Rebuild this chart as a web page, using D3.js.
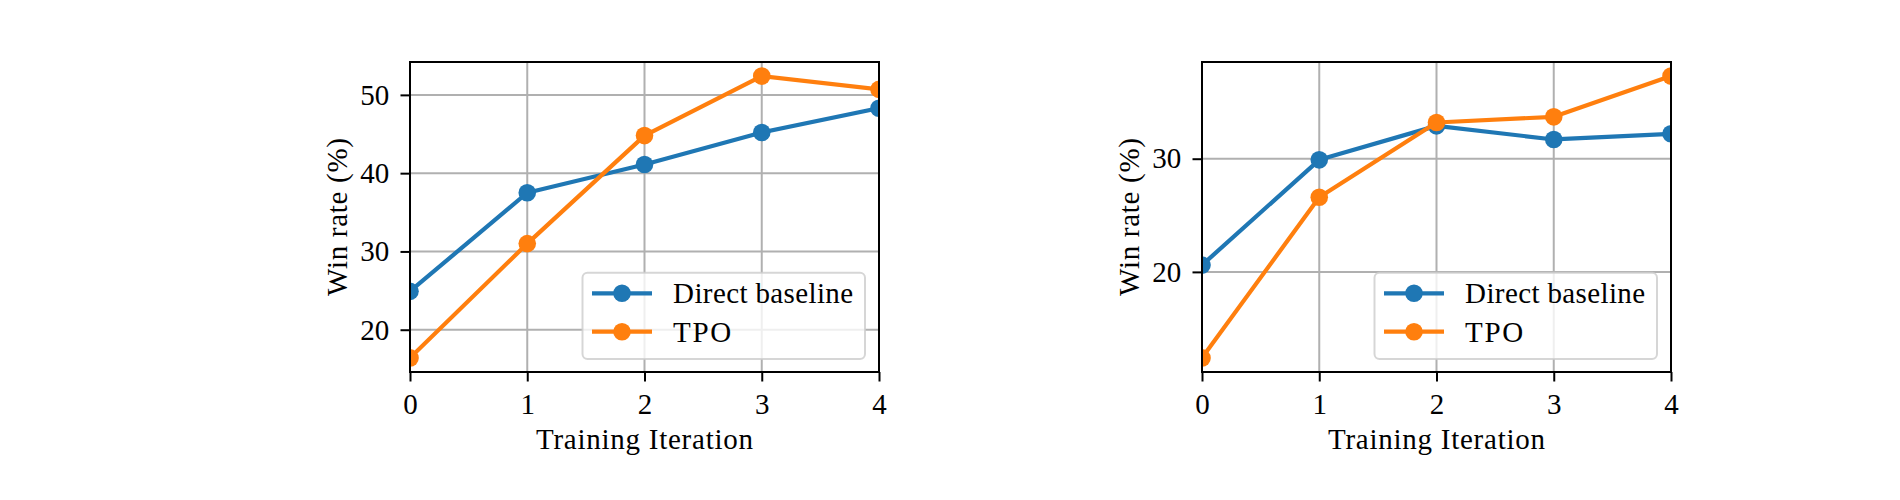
<!DOCTYPE html>
<html>
<head>
<meta charset="utf-8">
<script src="https://cdn.jsdelivr.net/npm/d3@7"></script>
<style>
  body { margin: 0; background: #fff; }
  svg text { font-family: "Liberation Serif", "Times New Roman", serif; fill: #000; }
</style>
</head>
<body>
<div id="chart"></div>
<script>
// data
var iterations = [0, 1, 2, 3, 4];
var seriesNames = ["Direct baseline", "TPO"];
var directLeft = [24.9, 37.5, 41.1, 45.2, 48.3];
var tpoLeft = [16.4, 31.0, 44.8, 52.4, 50.7];
var directRight = [20.6, 29.9, 32.9, 31.7, 32.2];
var tpoRight = [12.4, 26.6, 33.2, 33.7, 37.3];
var yTicksLeft = [20, 30, 40, 50];
var yTicksRight = [20, 30];
var xTicks = [0, 1, 2, 3, 4];

var colors = ["#1f77b4", "#ff7f0e"];
var fontSize = 29;

var svg = d3.select("#chart").append("svg")
  .attr("width", 1900)
  .attr("height", 500);

svg.append("rect").attr("width", 1900).attr("height", 500).attr("fill", "#fff");

var panels = [
  {id: "left", left: 410, right: 879, series: [directLeft, tpoLeft], yTicks: yTicksLeft},
  {id: "right", left: 1202, right: 1671, series: [directRight, tpoRight], yTicks: yTicksRight}
];
var plotTop = 62, plotBottom = 372; // note: "top" is taken by window.top

panels.forEach(function(p) {
  var all = p.series[0].concat(p.series[1]);
  var lo = d3.min(all), hi = d3.max(all), pad = (hi - lo) * 0.05;

  var x = d3.scaleLinear().domain([0, 4]).range([p.left, p.right]);
  var y = d3.scaleLinear().domain([lo - pad, hi + pad]).range([plotBottom, plotTop]);

  var g = svg.append("g").attr("class", "panel-" + p.id);

  g.append("clipPath").attr("id", "clip-" + p.id)
    .append("rect")
    .attr("x", p.left).attr("y", plotTop)
    .attr("width", p.right - p.left).attr("height", plotBottom - plotTop);

  // grid
  g.selectAll(".gx").data(xTicks).enter().append("line")
    .attr("x1", function(d) { return x(d); }).attr("x2", function(d) { return x(d); })
    .attr("y1", plotTop).attr("y2", plotBottom)
    .attr("stroke", "#b0b0b0").attr("stroke-width", 2);
  g.selectAll(".gy").data(p.yTicks).enter().append("line")
    .attr("x1", p.left).attr("x2", p.right)
    .attr("y1", function(d) { return y(d); }).attr("y2", function(d) { return y(d); })
    .attr("stroke", "#b0b0b0").attr("stroke-width", 2);

  // series
  var plot = g.append("g").attr("clip-path", "url(#clip-" + p.id + ")");
  var line = d3.line()
    .x(function(d, i) { return x(iterations[i]); })
    .y(function(d) { return y(d); });

  p.series.forEach(function(vals, k) {
    plot.append("path")
      .datum(vals)
      .attr("d", line)
      .attr("fill", "none")
      .attr("stroke", colors[k])
      .attr("stroke-width", 4.2)
      .attr("stroke-linejoin", "round")
      .attr("stroke-linecap", "square");
    plot.selectAll(".m" + k).data(vals).enter().append("circle")
      .attr("cx", function(d, i) { return x(iterations[i]); })
      .attr("cy", function(d) { return y(d); })
      .attr("r", 8.8)
      .attr("fill", colors[k]);
  });

  // axes
  var xAxis = d3.axisBottom(x).tickValues(xTicks).tickSize(9.5).tickSizeOuter(0).tickPadding(11.9)
    .tickFormat(d3.format("d"));
  var yAxis = d3.axisLeft(y).tickValues(p.yTicks).tickSize(9.5).tickSizeOuter(0).tickPadding(11.2)
    .tickFormat(d3.format("d"));

  var gx = g.append("g").attr("transform", "translate(0," + plotBottom + ")").call(xAxis);
  var gy = g.append("g").attr("transform", "translate(" + p.left + ",0)").call(yAxis);
  [gx, gy].forEach(function(a) {
    a.select(".domain").remove();
    a.selectAll(".tick line").attr("stroke", "#000").attr("stroke-width", 2);
    a.selectAll(".tick text")
      .style("font-family", "'Liberation Serif', serif")
      .style("font-size", fontSize + "px")
      .attr("fill", "#000");
  });

  // spines
  g.append("rect")
    .attr("x", p.left).attr("y", plotTop)
    .attr("width", p.right - p.left).attr("height", plotBottom - plotTop)
    .attr("fill", "none").attr("stroke", "#000").attr("stroke-width", 2);

  // axis titles
  g.append("text")
    .attr("x", (p.left + p.right) / 2)
    .attr("y", 449)
    .attr("text-anchor", "middle")
    .attr("textLength", 217)
    .style("font-size", fontSize + "px")
    .text("Training Iteration");

  g.append("text")
    .attr("transform", "translate(" + (p.left - 63) + "," + ((plotTop + plotBottom) / 2) + ") rotate(-90)")
    .attr("text-anchor", "middle")
    .attr("textLength", 158)
    .style("font-size", fontSize + "px")
    .text("Win rate (%)");

  // legend, lower right
  var lw = 282.5, lh = 86.3;
  var lx = p.right - 14 - lw, ly = plotBottom - 13 - lh;
  var legend = g.append("g").attr("class", "legend");
  legend.append("rect")
    .attr("x", lx).attr("y", ly)
    .attr("width", lw).attr("height", lh)
    .attr("rx", 5).attr("ry", 5)
    .attr("fill", "#fff").attr("fill-opacity", 0.8)
    .attr("stroke", "#cccccc").attr("stroke-opacity", 0.8).attr("stroke-width", 2);

  var textLengths = [180, 58];
  seriesNames.forEach(function(name, k) {
    var cy = ly + 20.6 + k * 38.4;
    legend.append("line")
      .attr("x1", lx + 9.5).attr("x2", lx + 69.5)
      .attr("y1", cy).attr("y2", cy)
      .attr("stroke", colors[k]).attr("stroke-width", 4.2);
    legend.append("circle")
      .attr("cx", lx + 39.5).attr("cy", cy).attr("r", 8.8)
      .attr("fill", colors[k]);
    legend.append("text")
      .attr("x", lx + 90.6)
      .attr("y", cy + 10)
      .attr("textLength", textLengths[k])
      .style("font-size", fontSize + "px")
      .text(name);
  });
});
</script>
</body>
</html>
